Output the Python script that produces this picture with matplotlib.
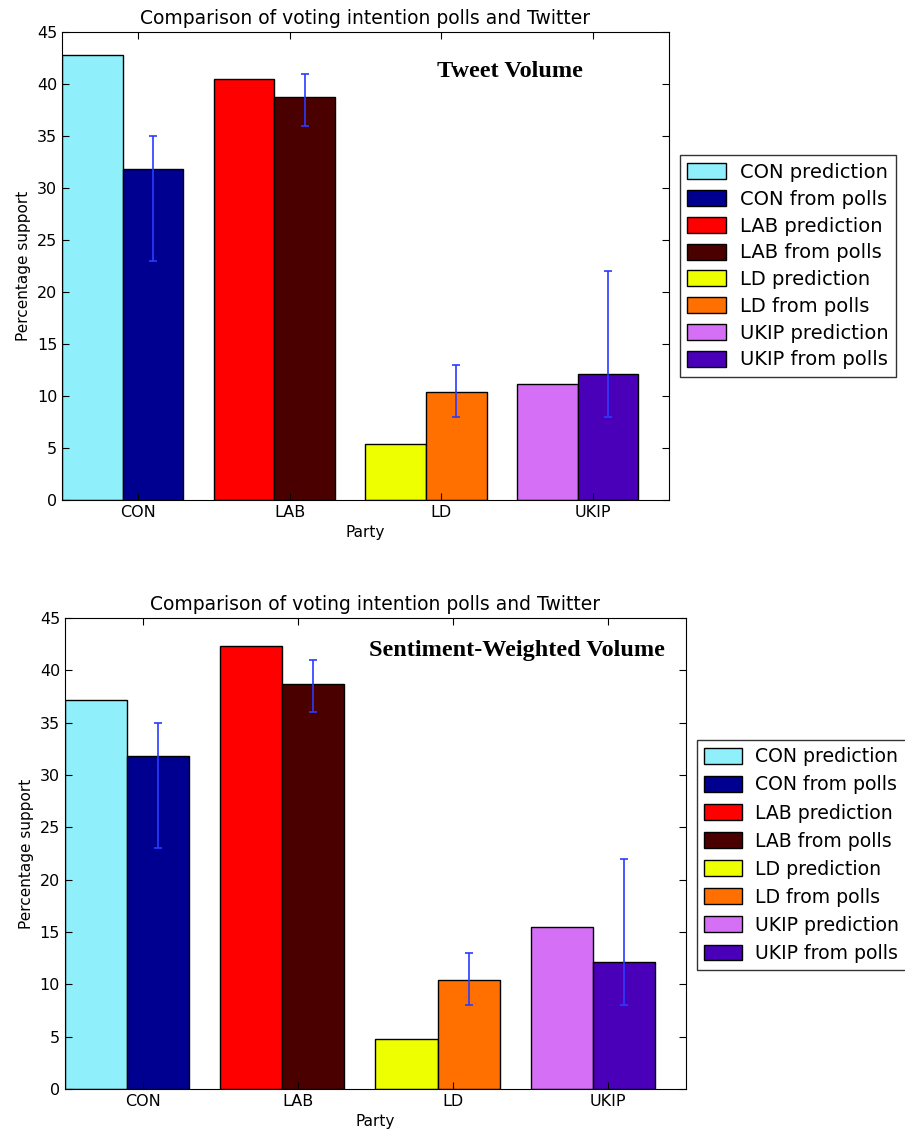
import numpy as np
import matplotlib
matplotlib.use("Agg")
import matplotlib.pyplot as plt

# ---- Data ----
parties = ["CON", "LAB", "LD", "UKIP"]
pred_volume = [42.8, 40.5, 5.4, 11.2]
pred_sentiment = [37.2, 42.3, 4.8, 15.5]
polls = [31.8, 38.7, 10.4, 12.1]
polls_low = [23, 36, 8, 8]
polls_high = [35, 41, 13, 22]

pred_colors = ["#8ff0fc", "#ff0000", "#eeff00", "#d46ff6"]
poll_colors = ["#000090", "#4b0000", "#ff7000", "#4a00b8"]
panel_titles = ["Tweet Volume", "Sentiment-Weighted Volume"]

width = 0.4
x = np.arange(len(parties))

fig = plt.figure(figsize=(9.05, 11.33), dpi=100)
axes_rects = [[0.0685, 0.5587, 0.6705, 0.4131],
              [0.0718, 0.0388, 0.6862, 0.4157]]
legend_anchor = [(0.751, 0.863), (0.770, 0.347)]
legend_size = [14.0, 13.6]
legend_spacing = [0.40, 0.48]
label_pos = [(0.738, 0.915), (0.728, 0.932)]


def draw_panel(ax, preds, label, anchor, lpos, lsize, lspace):
    handles = []
    for i, p in enumerate(parties):
        b1 = ax.bar(x[i], preds[i], width, align="edge", color=pred_colors[i],
                    edgecolor="black", linewidth=1, label=f"{p} prediction")
        b2 = ax.bar(x[i] + width, polls[i], width, align="edge", color=poll_colors[i],
                    edgecolor="black", linewidth=1, label=f"{p} from polls")
        handles += [b1, b2]
    err = [np.array(polls) - np.array(polls_low), np.array(polls_high) - np.array(polls)]
    ax.errorbar(x + width * 1.5, polls, yerr=err, fmt="none", ecolor="#2a3cff",
                elinewidth=1.2, capsize=3, capthick=1.2)
    ax.set_xlim(0, 4)
    ax.set_ylim(0, 45)
    ax.set_xticks(x + 0.5)
    ax.set_xticklabels(parties)
    ax.set_yticks(np.arange(0, 46, 5))
    ax.tick_params(direction="in", top=True, right=True, labelsize=11.5, length=5)
    ax.set_xlabel("Party", fontsize=11)
    ax.set_ylabel("Percentage support", fontsize=11)
    ax.set_title("Comparison of voting intention polls and Twitter", fontsize=13.5)
    ax.text(lpos[0], lpos[1], label, transform=ax.transAxes, ha="center", va="center",
            fontsize=17.5, fontweight="bold", family="Liberation Serif")
    fig.legend(handles=handles, loc="upper left", bbox_to_anchor=anchor,
               fontsize=lsize, fancybox=False, edgecolor="black", handlelength=2.0,
               handleheight=0.9, handletextpad=0.7, labelspacing=lspace, borderpad=0.4,
               borderaxespad=0)


for k, preds in enumerate([pred_volume, pred_sentiment]):
    ax = fig.add_axes(axes_rects[k])
    draw_panel(ax, preds, panel_titles[k], legend_anchor[k], label_pos[k],
               legend_size[k], legend_spacing[k])

fig.savefig("out.png", dpi=100)
